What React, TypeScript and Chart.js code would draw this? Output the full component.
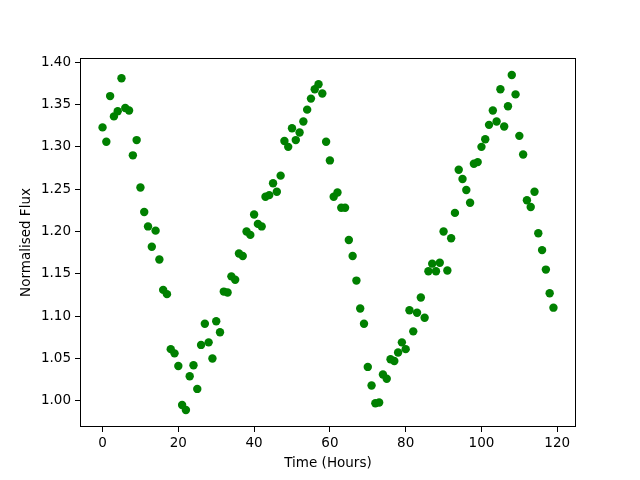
import { useEffect, useRef } from "react";
import { Chart, registerables } from "chart.js";

Chart.register(...registerables);

const hours = [
  0, 1, 2, 3, 4, 5, 6, 7, 8, 9, 10, 11, 12, 13, 14, 15, 16, 17, 18, 19,
  20, 21, 22, 23, 24, 25, 26, 27, 28, 29, 30, 31, 32, 33, 34, 35, 36, 37, 38, 39,
  40, 41, 42, 43, 44, 45, 46, 47, 48, 49, 50, 51, 52, 53, 54, 55, 56, 57, 58, 59,
  60, 61, 62, 63, 64, 65, 66, 67, 68, 69, 70, 71, 72, 73, 74, 75, 76, 77, 78, 79,
  80, 81, 82, 83, 84, 85, 86, 87, 88, 89, 90, 91, 92, 93, 94, 95, 96, 97, 98, 99,
  100, 101, 102, 103, 104, 105, 106, 107, 108, 109, 110, 111, 112, 113, 114, 115, 116, 117, 118, 119,
];

const flux = [
  1.323, 1.306, 1.36, 1.336, 1.342, 1.381, 1.346, 1.343, 1.29, 1.308,
  1.252, 1.223, 1.206, 1.182, 1.201, 1.167, 1.131, 1.126, 1.061, 1.056,
  1.041, 0.995, 0.989, 1.029, 1.042, 1.014, 1.066, 1.091, 1.069, 1.05,
  1.094, 1.081, 1.129, 1.128, 1.147, 1.143, 1.174, 1.171, 1.2, 1.196,
  1.22, 1.209, 1.206, 1.241, 1.243, 1.257, 1.247, 1.266, 1.307, 1.3,
  1.322, 1.308, 1.317, 1.33, 1.344, 1.357, 1.368, 1.374, 1.363, 1.306,
  1.284, 1.241, 1.246, 1.228, 1.228, 1.19, 1.171, 1.142, 1.109, 1.091,
  1.04, 1.018, 0.997, 0.998, 1.031, 1.026, 1.049, 1.047, 1.057, 1.069,
  1.061, 1.107, 1.082, 1.104, 1.122, 1.098, 1.153, 1.162, 1.153, 1.163,
  1.2, 1.154, 1.192, 1.222, 1.273, 1.262, 1.249, 1.234, 1.28, 1.282,
  1.3, 1.309, 1.326, 1.343, 1.33, 1.368, 1.324, 1.348, 1.385, 1.362,
  1.313, 1.291, 1.237, 1.229, 1.247, 1.198, 1.178, 1.155, 1.127, 1.11,
];

const xTicks = [0, 20, 40, 60, 80, 100, 120];
const yTicks = [1.0, 1.05, 1.1, 1.15, 1.2, 1.25, 1.3, 1.35, 1.4];

const xLabel = "Time (Hours)";
const yLabel = "Normalised Flux";

const FONT = "'DejaVu Sans', sans-serif";

const framePlugin = {
  id: "frame",
  afterDraw(chart: any) {
    const { ctx, chartArea } = chart;
    const l = Math.round(chartArea.left) + 0.5;
    const r = Math.round(chartArea.right) - 0.5;
    const t = Math.round(chartArea.top) + 0.5;
    const b = Math.round(chartArea.bottom) - 0.5;
    ctx.save();
    ctx.strokeStyle = "#000";
    ctx.lineWidth = 1;
    ctx.strokeRect(l, t, r - l, b - t);
    ctx.restore();
  },
};

export default function App() {
  const ref = useRef<HTMLCanvasElement | null>(null);

  useEffect(() => {
    if (!ref.current) return;
    const chart = new Chart(ref.current, {
      type: "scatter",
      data: {
        datasets: [
          {
            data: hours.map((h, i) => ({ x: h, y: flux[i] })),
            backgroundColor: "#008000",
            borderColor: "#008000",
            pointRadius: 4.2,
            pointBorderWidth: 0,
          },
        ],
      },
      options: {
        animation: false,
        responsive: false,
        layout: { padding: { left: 0, right: 64, top: 58, bottom: 0 } },
        plugins: { legend: { display: false }, tooltip: { enabled: false } },
        scales: {
          x: {
            type: "linear",
            min: -5.95,
            max: 124.95,
            afterBuildTicks: (s: any) => {
              s.ticks = xTicks.map((v) => ({ value: v }));
            },
            afterFit: (s: any) => {
              s.height = 53;
            },
            grid: {
              drawOnChartArea: false,
              drawTicks: true,
              tickLength: 5,
              color: "#000",
              lineWidth: 1,
            },
            border: { display: false },
            ticks: {
              color: "#000",
              font: { family: FONT, size: 13.5 },
              padding: 3,
              maxRotation: 0,
              callback: (v: any) => String(v),
            },
            title: {
              display: true,
              text: xLabel,
              color: "#000",
              font: { family: FONT, size: 13.5 },
              padding: { top: 0, bottom: 8 },
            },
          },
          y: {
            type: "linear",
            min: 0.969,
            max: 1.405,
            afterBuildTicks: (s: any) => {
              s.ticks = yTicks.map((v) => ({ value: v }));
            },
            afterFit: (s: any) => {
              s.width = 80;
            },
            grid: {
              drawOnChartArea: false,
              drawTicks: true,
              tickLength: 5,
              color: "#000",
              lineWidth: 1,
            },
            border: { display: false },
            ticks: {
              color: "#000",
              font: { family: FONT, size: 13.5 },
              padding: 4,
              callback: (v: any) => Number(v).toFixed(2),
            },
            title: {
              display: true,
              text: yLabel,
              color: "#000",
              font: { family: FONT, size: 13.5 },
              padding: { top: 18, bottom: 0 },
            },
          },
        },
      },
      plugins: [framePlugin],
    });
    return () => chart.destroy();
  }, []);

  return (
    <div style={{ position: "absolute", left: 0, top: 0, width: 640, height: 480, background: "#fff" }}>
      <canvas ref={ref} width={640} height={480} />
    </div>
  );
}
